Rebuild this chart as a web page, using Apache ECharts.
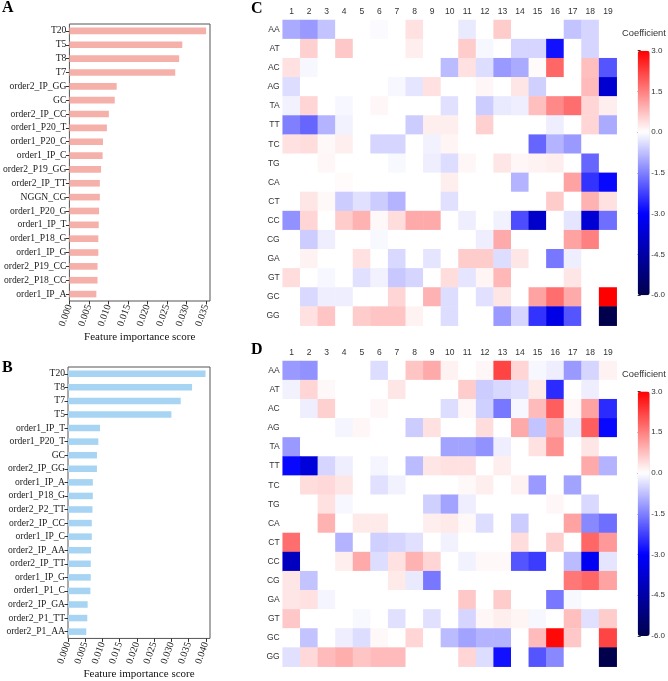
<!DOCTYPE html>
<html>
<head>
<meta charset="utf-8">
<script src="https://cdn.jsdelivr.net/npm/echarts@6/dist/echarts.min.js"></script>
<style>html,body{margin:0;padding:0;background:#fff;}#chart{width:668px;height:681px;}</style>
</head>
<body>
<div id="chart"></div>
<script>
// ---------- Data ----------
const featA = ['T20','T5','T8','T7','order2_IP_GG','GC','order2_IP_CC','order1_P20_T','order1_P20_C','order1_IP_C','order2_P19_GG','order2_IP_TT','NGGN_CG','order1_P20_G','order1_IP_T','order1_P18_G','order1_IP_G','order2_P19_CC','order2_P18_CC','order1_IP_A'];
const scoreA = [0.0350,0.0289,0.0281,0.0271,0.0121,0.0116,0.0101,0.0096,0.0086,0.0085,0.0081,0.0078,0.0078,0.0076,0.0075,0.0074,0.0074,0.0072,0.0072,0.0069];
const featB = ['T20','T8','T7','T5','order1_IP_T','order1_P20_T','GC','order2_IP_GG','order1_IP_A','order1_P18_G','order2_P2_TT','order2_IP_CC','order1_IP_C','order2_IP_AA','order2_IP_TT','order1_IP_G','order1_P1_C','order2_IP_GA','order2_P1_TT','order2_P1_AA'];
const scoreB = [0.0399,0.0360,0.0327,0.0300,0.0093,0.0088,0.0084,0.0084,0.0072,0.0072,0.0071,0.0069,0.0069,0.0067,0.0066,0.0066,0.0065,0.0057,0.0056,0.0053];
const ticksA = [0,0.005,0.010,0.015,0.020,0.025,0.030,0.035];
const ticksB = [0,0.005,0.010,0.015,0.020,0.025,0.030,0.035,0.040];

const positions = ['1','2','3','4','5','6','7','8','9','10','11','12','13','14','15','16','17','18','19'];
const dinucs = ['AA','AT','AC','AG','TA','TT','TC','TG','CA','CT','CC','CG','GA','GT','GC','GG'];

const coefC = [
 [-1.0,-1.2,-0.7,0,0,-0.05,0,0.35,0,0,-0.25,0,0.6,0,0,0,-0.7,-0.5,0],
 [0,0.55,0,0.65,0,0,0,0.2,0,0,0.6,-0.1,0,-0.5,-0.5,-2.8,0,-0.5,0],
 [0.35,-0.1,0,0,0,0,0,0,0,-0.8,0.35,-0.4,-1.2,-1.0,0.05,1.8,0,0.75,-2.0],
 [-0.4,0,0,0,0,0,-0.1,-0.3,0.35,0,0,0.1,0,0.3,-0.55,0,0,0.8,-3.8],
 [-0.15,0.5,0,-0.1,0,0.1,0,0,0,-0.35,0,-0.6,-0.25,-0.2,0.75,1.4,1.7,0.5,0.2],
 [-1.5,-1.8,-0.9,-0.15,0,0,0,-0.6,0.2,0.2,0,0.55,0,0,0,-0.2,0,0.5,-1.0],
 [0.35,0.4,0.08,0.2,0,-0.5,-0.5,0,-0.15,0.12,0,0,0,0,-1.8,-0.9,-1.2,0,0],
 [0,0,0.1,0,0,0,-0.08,0,-0.2,-0.4,0.1,0,0.3,0.1,0.15,0.2,0,-1.8,0],
 [0,0,0,0.05,0,0,0,0,0,0.2,0,0,0,-0.9,0,0,1.1,-2.4,-2.9],
 [0,0.3,0.08,-0.6,-0.35,-0.6,-0.9,0,0,-0.35,0,0,0,0,0,0.6,0,0.9,0.35],
 [-1.3,0.5,0,0.6,0.9,0.08,0.4,1.0,1.0,0,-0.2,0,-0.15,-2.1,-3.9,0,-0.3,-3.7,-1.7],
 [0,-0.6,-0.2,0,0,-0.08,0,0,0,0,0,-0.2,1.0,0,0,0,1.1,1.5,0],
 [0,0.15,0,0,0.35,0,-0.45,0,-0.3,0,0.6,0.6,-0.4,0.3,0,-1.6,-0.2,0,0],
 [0.4,0,-0.1,0,-0.35,-0.15,-0.65,-0.5,0,0.4,-0.3,0.12,0.85,0,0,0,0.3,0,0],
 [0,-0.45,-0.2,-0.2,0,0,0.5,0,0.9,-0.4,0,-0.35,0.3,0,1.1,1.7,1.0,0,3.0],
 [0,0.35,0.7,0,0.6,0.7,0.7,0.15,0,-0.4,0,0,-1.2,-0.5,-2.4,-3.4,-2.0,0,-6.0]
];
const coefD = [
 [-1.2,-1.3,0,0,0,-0.4,0,0.7,1.0,0.15,0,0.1,2.2,0.5,-0.1,-0.2,-1.2,-0.5,0.15],
 [-0.15,0.5,0.08,0,0,0,0.3,0,0,0,0.6,-0.6,-0.45,-0.35,0.25,-2.5,0,-0.2,0],
 [0,-0.2,0.55,0,0,0.1,0,0,0,-0.4,0.1,-0.55,-1.6,-0.1,0.8,1.9,0.1,1.1,-2.5],
 [0,0,0,-0.12,0.1,0,0,-0.6,0.35,0,0,0.4,0,1.0,-0.7,1.0,-0.25,1.9,-2.9],
 [-1.2,0,0,0,0,0,0,0,0,-1.1,-1.1,-1.3,-0.2,0,0.35,1.3,0,0.3,0],
 [-2.9,-3.6,-0.5,-0.2,0,-0.12,0,-0.8,0.3,0.35,0.35,0,0.2,0,0,0,0,1.0,-0.9],
 [0,0.4,0.45,0.3,0,-0.35,-0.15,0,0,0,0.08,0.2,0,0.15,-1.2,0,-1.1,0,0],
 [0,0,0.35,-0.1,0,0,0,0,-0.55,-1.1,-0.2,0,0,0,0,0.1,0,-0.45,0],
 [0,0,0.9,0,0.25,0.25,0,0,0.2,0.25,0.08,-0.4,0,-0.6,0,0,1.1,-1.4,-1.7],
 [1.7,0,0,-0.9,0,-0.55,-0.5,-0.35,0,-0.15,0,0,0,0.4,0,0.55,0,1.8,1.2],
 [-4.1,0,0,0.2,1.0,-0.4,0.35,0.9,0.5,0,-0.15,0.08,0.08,-2.0,-2.3,0,-0.8,-3.2,-0.3],
 [0.3,-0.7,0,0,0,0,0.25,-0.25,-1.6,0,0,0,0,0,0,0,1.6,1.8,1.1],
 [0.3,0.35,-0.12,0,0,0,0,0,0,0,0.65,0,0.6,0,0,-1.6,-0.08,0,0],
 [0.65,0,0,0,-0.08,0,-0.35,0,-0.35,0,-0.5,0.1,0.2,0.12,-0.1,0,0.75,-0.35,0.6],
 [0,-0.7,0,-0.2,-0.4,0.08,0,0.5,0,-0.8,-1.1,-0.9,-0.9,0,0.8,2.9,0.65,0,2.2],
 [-0.35,0.45,0.8,0.95,0.7,0.8,0.8,0,0,0,0.5,-0.4,-2.8,0,-2.0,-1.4,0,0,-6.0]
];
const cbTicks = [-6,-4.5,-3,-1.5,0,1.5,3];

// ---------- Build ----------
function toCells(m){const out=[];m.forEach((row,r)=>row.forEach((v,c)=>out.push([c,r,v])));return out;}
const serif = 'Liberation Serif';
const sans = 'Liberation Sans';
const cmap = ['#00004d','#0000ff','#ffffff','#ff0000'];

const gA = {left:68, top:24, width:142, height:277};
const gB = {left:68, top:367, width:142, height:276};
const gC = {left:282.7, top:20, width:334, height:305.7};
const gD = {left:282.7, top:361, width:334, height:305.7};
const cbC = {left:637.7, top:50.7, width:12, height:244.5};
const cbD = {left:637.7, top:391.5, width:12, height:244.5};

function barX(idx, max, ticks){
  return {gridIndex:idx, type:'value', min:0, max:max,
    axisLine:{show:false}, splitLine:{show:false},
    axisTick:{show:true, length:3.5, lineStyle:{color:'#333'}, customValues:ticks},
    axisLabel:{rotate:70, fontFamily:serif, fontSize:10, color:'#222', margin:4, customValues:ticks, formatter:v=>v.toFixed(3)},
    name:'Feature importance score', nameLocation:'middle', nameGap:27,
    nameTextStyle:{fontFamily:serif, fontSize:11, color:'#111'}};
}
function barY(idx, cats){
  return {gridIndex:idx, type:'category', data:cats, inverse:true,
    axisLine:{show:false}, axisTick:{show:true, length:3.5, alignWithLabel:true, lineStyle:{color:'#333'}},
    axisLabel:{fontFamily:serif, fontSize:9.6, color:'#222', margin:3}};
}
function hmX(idx){
  return {gridIndex:idx, type:'category', data:positions, position:'top',
    axisLine:{show:false}, axisTick:{show:false}, splitArea:{show:false},
    axisLabel:{fontFamily:sans, fontSize:8.5, color:'#333', margin:4}};
}
function hmY(idx){
  return {gridIndex:idx, type:'category', data:dinucs, inverse:true,
    axisLine:{show:false}, axisTick:{show:false},
    axisLabel:{fontFamily:sans, fontSize:8.5, color:'#333', margin:3}};
}
function cbY(idx){
  return {gridIndex:idx, type:'value', min:-6, max:3, interval:1.5, position:'right',
    axisLine:{show:false}, splitLine:{show:false},
    axisTick:{show:true, length:3, lineStyle:{color:'#333'}},
    axisLabel:{fontFamily:sans, fontSize:8, color:'#333', margin:3, formatter:v=>v.toFixed(1)}};
}

const option = {
  animation:false,
  backgroundColor:'#fff',
  grid:[
    Object.assign({show:true, borderColor:'#555', borderWidth:1, backgroundColor:'transparent'}, gA),
    Object.assign({show:true, borderColor:'#555', borderWidth:1, backgroundColor:'transparent'}, gB),
    gC, gD, cbC, cbD
  ],
  xAxis:[
    barX(0, 0.036, ticksA),
    barX(1, 0.0412, ticksB),
    hmX(2), hmX(3),
    {gridIndex:4, type:'value', show:false, min:0, max:1},
    {gridIndex:5, type:'value', show:false, min:0, max:1}
  ],
  yAxis:[
    barY(0, featA), barY(1, featB), hmY(2), hmY(3), cbY(4), cbY(5)
  ],
  visualMap:[
    {type:'continuous', min:-6, max:3, seriesIndex:2, orient:'vertical', left:cbC.left, top:cbC.top,
     itemWidth:cbC.width, itemHeight:cbC.height, padding:0, calculable:false, hoverLink:false, inRange:{color:cmap}},
    {type:'continuous', min:-6, max:3, seriesIndex:3, orient:'vertical', left:cbD.left, top:cbD.top,
     itemWidth:cbD.width, itemHeight:cbD.height, padding:0, calculable:false, hoverLink:false, inRange:{color:cmap}}
  ],
  series:[
    {type:'bar', xAxisIndex:0, yAxisIndex:0, data:scoreA, barWidth:'48%', itemStyle:{color:'#f6b0aa'}},
    {type:'bar', xAxisIndex:1, yAxisIndex:1, data:scoreB, barWidth:'48%', itemStyle:{color:'#a6d4f2'}},
    {type:'heatmap', xAxisIndex:2, yAxisIndex:2, data:toCells(coefC), itemStyle:{borderWidth:0}},
    {type:'heatmap', xAxisIndex:3, yAxisIndex:3, data:toCells(coefD), itemStyle:{borderWidth:0}}
  ],
  graphic:[
    {type:'text', left:2, top:0, style:{text:'A', font:'bold 16px "Liberation Serif"', fill:'#000'}},
    {type:'text', left:2, top:360, style:{text:'B', font:'bold 16px "Liberation Serif"', fill:'#000'}},
    {type:'text', left:251, top:1, style:{text:'C', font:'bold 16px "Liberation Serif"', fill:'#000'}},
    {type:'text', left:251, top:342, style:{text:'D', font:'bold 16px "Liberation Serif"', fill:'#000'}},
    {type:'text', x:644, y:33, style:{text:'Coefficient', font:'9.3px "Liberation Sans"', fill:'#333', align:'center', verticalAlign:'middle'}},
    {type:'text', x:644, y:374, style:{text:'Coefficient', font:'9.3px "Liberation Sans"', fill:'#333', align:'center', verticalAlign:'middle'}}
  ]
};
const chart = echarts.init(document.getElementById('chart'), null, {renderer:'canvas'});
chart.setOption(option);
</script>
</body>
</html>
